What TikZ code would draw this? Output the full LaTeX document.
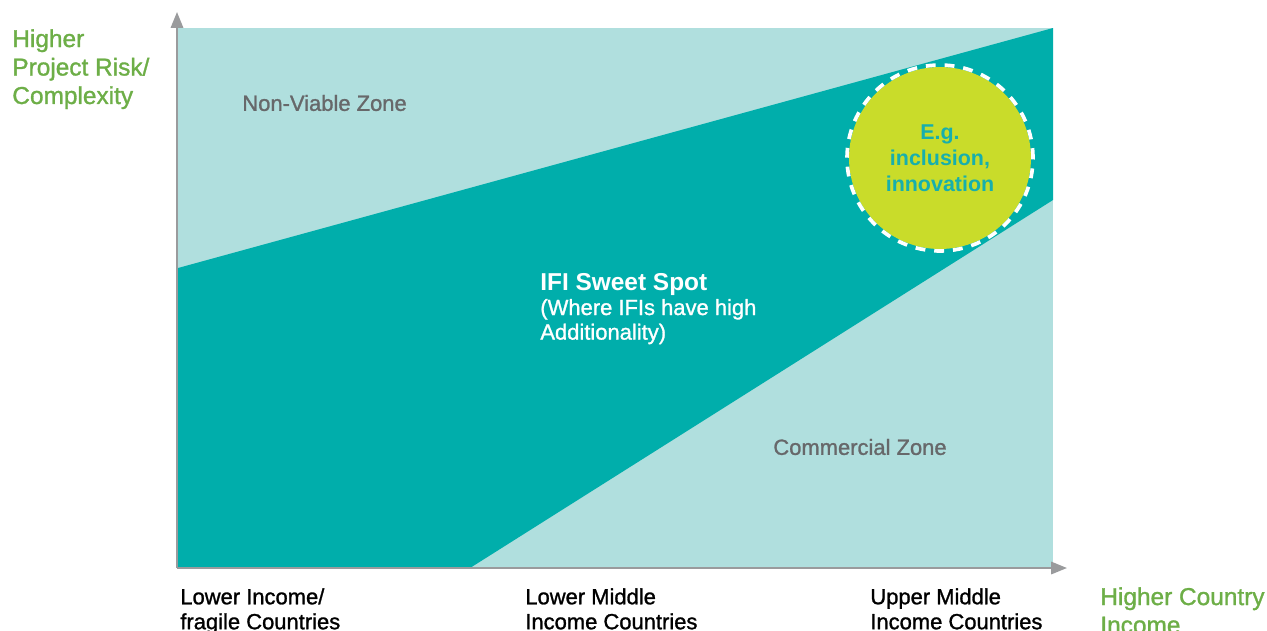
\documentclass[tikz,border=0pt]{standalone}
\usepackage{fontspec}
\setmainfont{Liberation Sans}
\newfontfamily\mediumsans[FakeBold=1.2]{Liberation Sans}
\usepackage{tikz}
\usetikzlibrary{arrows.meta}
\definecolor{paleteal}{HTML}{B0DFDE}
\definecolor{deepteal}{HTML}{00AEAB}
\definecolor{limefill}{HTML}{C9DC2A}
\definecolor{spotteal}{HTML}{17AFAD}
\definecolor{axisgreen}{HTML}{6DAE47}
\definecolor{zonegray}{HTML}{67686A}
\definecolor{axisgray}{HTML}{9A9B9D}

\begin{document}
\begin{tikzpicture}[x=0.02cm,y=-0.02cm,join=round, %Additionality wedge
        axisline/.style={draw=axisgray,line width=1.2pt,-{Triangle[length=9pt,width=7pt]}},
        axistext/.style={anchor=north west,inner sep=0pt,align=left,text=axisgreen,font=\mediumsans\fontsize{13.9}{16.2}\selectfont},
        incometext/.style={anchor=north west,inner sep=0pt,align=left,text=black,font=\mediumsans\fontsize{12.5}{14.2}\selectfont},
        zonetext/.style={anchor=west,inner sep=0pt,text=zonegray,font=\mediumsans\fontsize{12.5}{14}\selectfont},
        spotdisc/.style={circle,fill=limefill,minimum size=3.64cm,inner sep=0pt,align=center,text=spotteal,font=\fontsize{12.2}{14.8}\selectfont\bfseries},
        spotring/.style={draw=white,line width=2.1pt,dash pattern=on 5.6pt off 5.1pt}]
        \useasboundingbox (0,0) rectangle (1267,630);
        \fill[paleteal](178,28) rectangle (1053,568);
        \fill[deepteal](178,268)--(1053,28)--(1053,200)--(470,568)--(178,568)--cycle;
        \coordinate (origin) at (177,568);
        \coordinate (ytip) at (177,12);
        \coordinate (xtip) at (1067,568);
        \draw[axisline](origin)--(ytip);
        \draw[axisline](origin)--(xtip);
        \node[spotdisc] (spot) at (940,158) {E.g.\\inclusion,\\innovation};
        \draw[spotring](spot.center) circle[radius=1.86cm];
        \node[zonetext] (nonviable) at (242,103) {Non-Viable Zone};
        \node[zonetext] (commercial) at (773,447) {Commercial Zone};
        \node[anchor=north west,inner sep=0pt,align=left,text=white,font=\mediumsans\fontsize{12.5}{14}\selectfont] (sweet) at (540,273)
                {{\fontsize{13.9}{14}\selectfont\normalfont\bfseries IFI Sweet Spot}\\(Where IFIs have high\\Additionality)};
        \node[axistext] (risk) at (12,29) {Higher\\Project Risk/\\Complexity};
        \node[axistext] (income) at (1100,587) {Higher Country\\Income};
        \node[incometext] (lowinc) at (180,588) {Lower Income/\\fragile Countries};
        \node[incometext] (lowmid) at (525,588) {Lower Middle\\Income Countries};
        \node[incometext] (upmid) at (870,588) {Upper Middle\\Income Countries};
\end{tikzpicture}
\end{document}
